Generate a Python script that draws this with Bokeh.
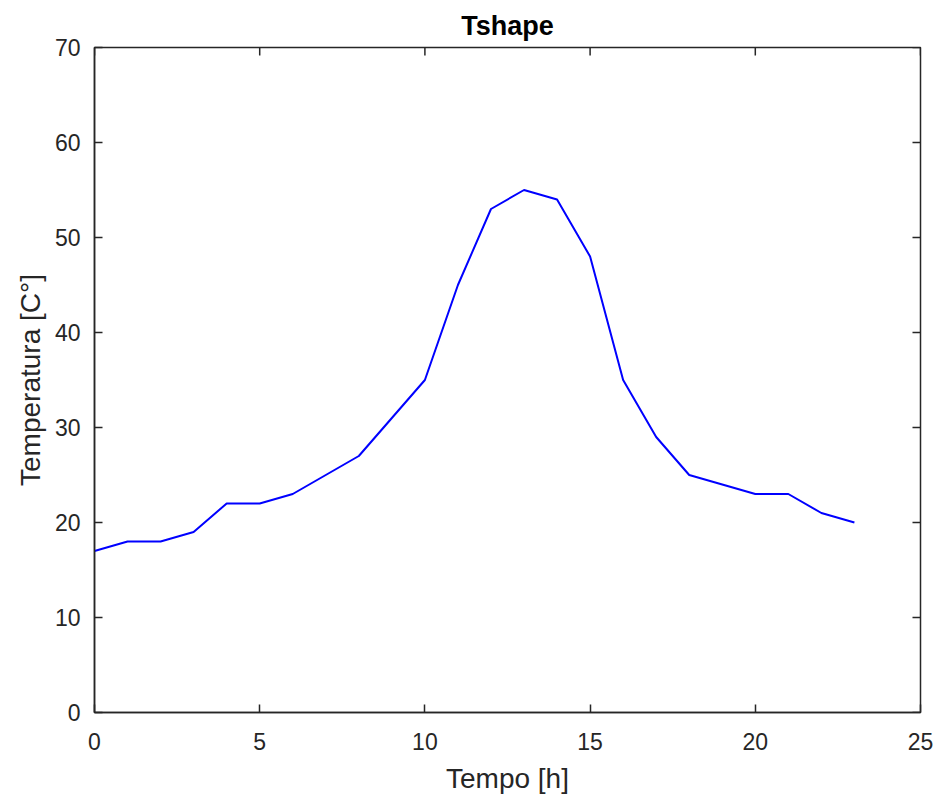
import math
from bokeh.plotting import figure
from bokeh.models import LinearAxis, FixedTicker, Range1d
from bokeh.embed import file_html
from bokeh.resources import INLINE

hours = list(range(24))
temperature = [17, 18, 18, 19, 22, 22, 23, 25, 27, 31, 35, 45, 53, 55, 54, 48,
               35, 29, 25, 24, 23, 23, 21, 20]
x_ticks = [0, 5, 10, 15, 20, 25]
y_ticks = [0, 10, 20, 30, 40, 50, 60, 70]
x_min, x_max = 0, 25
y_min, y_max = 0, 70

AX = "#262626"
FONT = "Liberation Sans"

p = figure(width=939, height=798, output_backend="svg", toolbar_location=None,
           x_range=Range1d(x_min, x_max), y_range=Range1d(y_min, y_max),
           min_border_left=94, min_border_top=47, min_border_right=19,
           min_border_bottom=86, x_axis_location=None, y_axis_location=None)
p.background_fill_color = "white"
p.border_fill_color = "white"
p.grid.visible = False
p.outline_line_color = AX
p.outline_line_width = 1.5

p.title.text = "Tshape"
p.title.align = "center"
p.title.text_font = FONT
p.title.text_font_size = "27px"
p.title.text_font_style = "bold"
p.title.text_color = "black"
p.title.standoff = 14


def style(ax, ticks):
    ax.ticker = FixedTicker(ticks=ticks)
    ax.axis_line_color = AX
    ax.axis_line_width = 1.5
    ax.major_tick_line_color = AX
    ax.major_tick_line_width = 1.5
    ax.major_tick_in = 8
    ax.major_tick_out = 0
    ax.minor_tick_line_color = None
    ax.major_label_text_font = FONT
    ax.major_label_text_color = AX
    ax.major_label_text_font_size = "23px"
    ax.axis_label_text_font = FONT
    ax.axis_label_text_color = AX
    ax.axis_label_text_font_style = "normal"
    ax.axis_label_text_font_size = "28px"


xb = LinearAxis(axis_label="Tempo [h]")
style(xb, x_ticks)
xb.major_label_standoff = 20
xb.axis_label_standoff = 10
p.add_layout(xb, "below")

yl = LinearAxis(axis_label="Temperatura [C°]")
style(yl, y_ticks)
yl.major_label_standoff = 14
yl.axis_label_standoff = 6
p.add_layout(yl, "left")

# tick marks on the top and right edges of the box (MATLAB "box on")
p.ray(x=x_ticks, y=[y_max] * len(x_ticks), length=8, length_units="screen",
      angle=-math.pi / 2, line_color=AX, line_width=1.5)
p.ray(x=[x_max] * len(y_ticks), y=y_ticks, length=8, length_units="screen",
      angle=math.pi, line_color=AX, line_width=1.5)

p.line(hours, temperature, line_color="#0000ff", line_width=2)

open("out.html", "w").write(file_html(p, INLINE))
